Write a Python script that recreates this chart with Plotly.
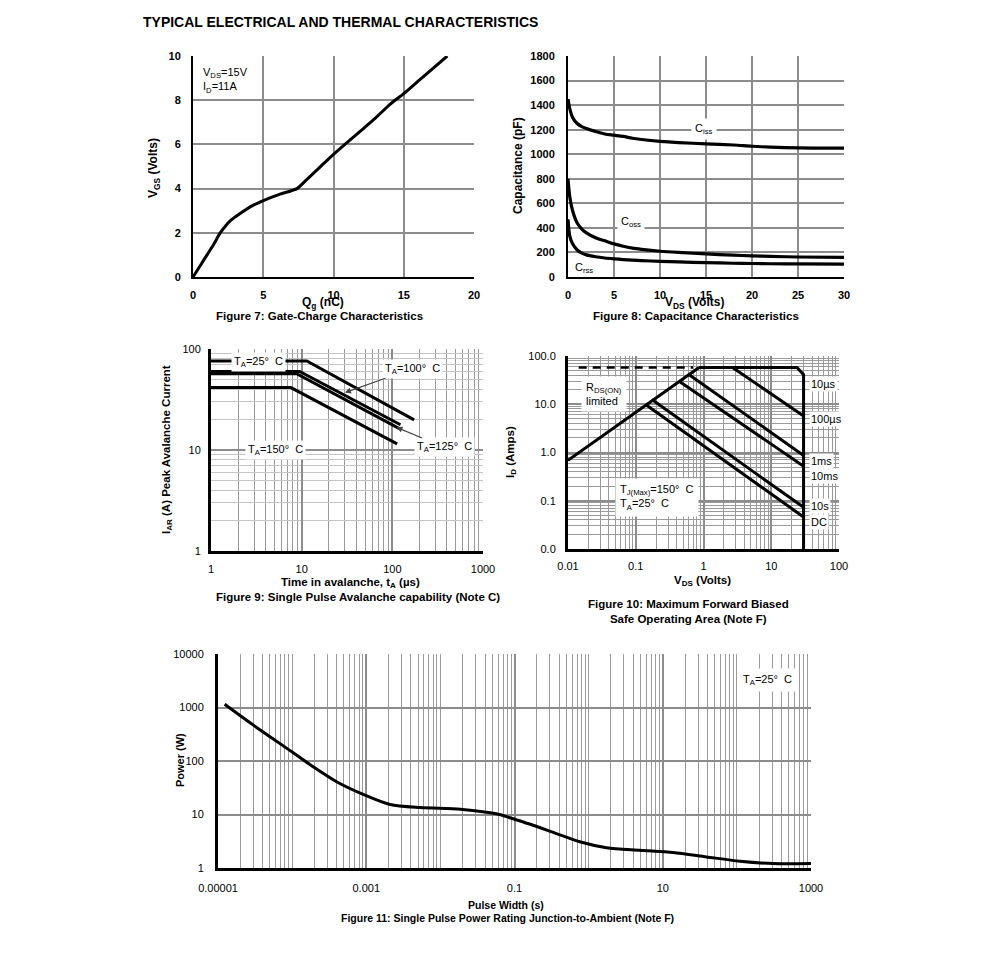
import math
import plotly.graph_objects as go

# ---------------- data ----------------
# Figure 7: gate charge
qg_nc = [0, 0.5, 1.0, 1.5, 1.9, 2.3, 2.7, 3.3, 4.3, 5.05, 6.2, 7.4, 8.0, 9.0, 10.0, 11.0, 12.0, 13.0, 14.0, 15.0, 16.0, 17.0, 18.1]
vgs_v = [0, 0.5, 1.0, 1.5, 1.96, 2.3, 2.57, 2.85, 3.25, 3.47, 3.75, 4.0, 4.35, 4.95, 5.55, 6.1, 6.65, 7.2, 7.8, 8.3, 8.85, 9.4, 10.0]

# Figure 8: capacitance
vds_cap = [0, 0.2, 0.5, 1, 1.5, 2, 3, 4, 5, 6, 7, 8, 10, 12, 15, 18, 20, 22, 25, 30]
ciss_pf = [1450, 1370, 1300, 1250, 1225, 1210, 1185, 1165, 1155, 1145, 1130, 1120, 1105, 1095, 1085, 1075, 1065, 1058, 1052, 1050]
coss_pf = [800, 650, 540, 440, 390, 360, 320, 295, 270, 250, 235, 225, 210, 200, 188, 178, 172, 168, 163, 160]
crss_pf = [470, 330, 270, 220, 195, 180, 165, 155, 148, 142, 137, 133, 128, 123, 117, 112, 110, 108, 107, 105]

# Figure 9: avalanche
ta25_t = [1, 11.4, 174]
ta25_i = [76, 76, 19.9]
ta100_t = [1, 9.5, 123]
ta100_i = [60, 60, 17.8]
ta125_t = [1, 8.8, 121]
ta125_i = [57, 57, 16.2]
ta150_t = [1, 7.6, 113]
ta150_i = [41.5, 41.5, 11.5]

# Figure 10: SOA
rds_v = [0.01, 0.86]
rds_i = [0.69, 58]
dash_v = [0.0144, 0.70]
dash_i = [58, 58]
us10_v = [0.86, 24, 30, 30]
us10_i = [58, 58, 41, 0.01]
us100_v = [2.68, 30]
us100_i = [58, 5.7]
ms1_v = [0.60, 30]
ms1_i = [42, 0.87]
ms10_v = [0.453, 30]
ms10_i = [29, 0.52]
s10_v = [0.173, 30]
s10_i = [12.5, 0.073]
dc_v = [0.138, 30]
dc_i = [10, 0.046]

# Figure 11: single pulse power
pw_t = [1.23e-5, 2.97e-5, 9.8e-5, 1.92e-4, 3.98e-4, 9.6e-4, 2.09e-3, 5.3e-3, 0.0186, 0.047, 0.065, 0.0865,
        0.178, 0.369, 0.759, 1.74, 4.9, 13.8, 38.9, 110, 309, 1000]
pw_p = [1150, 473, 150, 78, 41, 23, 15.4, 13.5, 12.6, 10.8, 9.9, 8.7,
        6.3, 4.4, 3.1, 2.4, 2.14, 1.94, 1.61, 1.34, 1.21, 1.21]

# ---------------- layout helpers ----------------
W, H = 991, 959
OFF = 8  # page body margin
FONT = "Liberation Sans"


def fx(px):
    return (px - OFF) / W


def fy(py):
    return 1 - (py - OFF) / H


GRID = "#8c8c8c"
LIGHT = "#c4c4c4"

fig = go.Figure()

line_k = dict(color="black", width=3)

# Fig 7
fig.add_trace(go.Scatter(x=qg_nc, y=vgs_v, mode="lines", line=dict(color="black", width=3, shape="spline", smoothing=0.6),
                         xaxis="x", yaxis="y", showlegend=False))
# Fig 8
for ys in (ciss_pf, coss_pf, crss_pf):
    fig.add_trace(go.Scatter(x=vds_cap, y=ys, mode="lines", line=dict(color="black", width=3.2, shape="spline", smoothing=0.8),
                             xaxis="x2", yaxis="y2", showlegend=False))
# Fig 9
for xs, ys in ((ta25_t, ta25_i), (ta100_t, ta100_i), (ta125_t, ta125_i), (ta150_t, ta150_i)):
    fig.add_trace(go.Scatter(x=xs, y=ys, mode="lines", line=line_k, xaxis="x3", yaxis="y3", showlegend=False))
# Fig 10
fig.add_trace(go.Scatter(x=dash_v, y=dash_i, mode="lines", line=dict(color="black", width=2.5, dash="8px,6px"),
                         xaxis="x4", yaxis="y4", showlegend=False))
for xs, ys in ((rds_v, rds_i), (us10_v, us10_i), (us100_v, us100_i), (ms1_v, ms1_i), (ms10_v, ms10_i),
               (s10_v, s10_i), (dc_v, dc_i)):
    fig.add_trace(go.Scatter(x=xs, y=ys, mode="lines", line=line_k, xaxis="x4", yaxis="y4", showlegend=False,
                             cliponaxis=False))
# Fig 11
fig.add_trace(go.Scatter(x=pw_t, y=pw_p, mode="lines", line=dict(color="black", width=3, shape="spline", smoothing=0.8),
                         xaxis="x5", yaxis="y5", showlegend=False))


def minor_vals(lo, hi):
    vals = []
    for d in range(lo, hi):
        for m in range(1, 10):
            vals.append(m * 10 ** d)
    vals.append(10 ** hi)
    return vals


bold_tick = dict(family=FONT, size=11, color="black", weight="bold")
norm_tick = dict(family=FONT, size=11, color="black")

common = dict(showline=True, linecolor="black", zeroline=False, ticks="", showgrid=True, fixedrange=True,
              automargin=False)

fig.update_layout(
    template="none",
    width=W, height=H, margin=dict(l=0, r=0, t=0, b=0, pad=0), autosize=False,
    paper_bgcolor="white", plot_bgcolor="white",
    font=dict(family=FONT, size=11, color="black"),
    # Fig 7
    xaxis=dict(domain=[fx(193), fx(474)], anchor="y", range=[0, 20], dtick=5, gridcolor=GRID, gridwidth=2,
               linewidth=2, tickfont=bold_tick, ticklabelstandoff=7, **common),
    yaxis=dict(domain=[fy(277), fy(56)], anchor="x", range=[0, 10], dtick=2, gridcolor=GRID, gridwidth=2,
               linewidth=2, tickfont=bold_tick, ticklabelstandoff=8, **common),
    # Fig 8
    xaxis2=dict(domain=[fx(568), fx(844)], anchor="y2", range=[0, 30], dtick=5, gridcolor=GRID, gridwidth=2,
                linewidth=2, tickfont=bold_tick, ticklabelstandoff=7, **common),
    yaxis2=dict(domain=[fy(277), fy(56)], anchor="x2", range=[0, 1800], dtick=200, gridcolor=GRID, gridwidth=2,
                linewidth=2, tickfont=bold_tick, ticklabelstandoff=9, **common),
    # Fig 9
    xaxis3=dict(domain=[fx(211), fx(483)], anchor="y3", type="log", range=[0, 3], tickvals=[1, 10, 100, 1000],
                ticktext=["1", "10", "100", "1000"], gridcolor=GRID, gridwidth=1.5, linewidth=3,
                minor=dict(tickvals=minor_vals(0, 3), showgrid=True, gridcolor="#9a9a9a", gridwidth=1.2),
                tickfont=norm_tick, ticklabelstandoff=6, **common),
    yaxis3=dict(domain=[fy(551), fy(349)], anchor="x3", type="log", range=[0, 2], tickvals=[1, 10, 100],
                ticktext=["1", "10", "100"], gridcolor=GRID, gridwidth=1.5, linewidth=3,
                minor=dict(tickvals=minor_vals(0, 2), showgrid=True, gridcolor=LIGHT, gridwidth=1),
                tickfont=norm_tick, ticklabelstandoff=5, **common),
    # Fig 10
    xaxis4=dict(domain=[fx(568), fx(839)], anchor="y4", type="log", range=[-2, 2],
                tickvals=[0.01, 0.1, 1, 10, 100], ticktext=["0.01", "0.1", "1", "10", "100"],
                gridcolor=GRID, gridwidth=1.5, linewidth=3,
                minor=dict(tickvals=minor_vals(-2, 2), showgrid=True, gridcolor="#9a9a9a", gridwidth=1.2),
                tickfont=norm_tick, ticklabelstandoff=5, **common),
    yaxis4=dict(domain=[fy(549), fy(356)], anchor="x4", type="log", range=[-2, 2],
                tickvals=[0.01, 0.1, 1, 10, 100], ticktext=["0.0", "0.1", "1.0", "10.0", "100.0"],
                gridcolor=GRID, gridwidth=1.5, linewidth=3,
                minor=dict(tickvals=minor_vals(-2, 2), showgrid=True, gridcolor="#9a9a9a", gridwidth=1.2),
                tickfont=norm_tick, ticklabelstandoff=7, **common),
    # Fig 11
    xaxis5=dict(domain=[fx(218), fx(811)], anchor="y5", type="log", range=[-5, 3],
                tickvals=[1e-5, 1e-3, 0.1, 10, 1000], ticktext=["0.00001", "0.001", "0.1", "10", "1000"],
                gridcolor=GRID, gridwidth=1.5, linewidth=3,
                minor=dict(tickvals=minor_vals(-5, 3), showgrid=True, gridcolor="#9a9a9a", gridwidth=1.2),
                tickfont=norm_tick, ticklabelstandoff=8, **common),
    yaxis5=dict(domain=[fy(868), fy(654)], anchor="x5", type="log", range=[0, 4],
                tickvals=[1, 10, 100, 1000, 10000], ticktext=["1", "10", "100", "1000", "10000"],
                gridcolor=GRID, gridwidth=1.5, linewidth=3,
                tickfont=norm_tick, ticklabelstandoff=9, **common),
)

ann = []


def paper_text(text, x, y, size=11, bold=True, xanchor="center", yanchor="middle", align="center", textangle=0):
    ann.append(dict(text=text, x=fx(x), y=fy(y), xref="paper", yref="paper", showarrow=False,
                    xanchor=xanchor, yanchor=yanchor, align=align, textangle=textangle,
                    font=dict(family=FONT, size=size, color="black", weight="bold" if bold else "normal")))


# main heading
paper_text("TYPICAL ELECTRICAL AND THERMAL CHARACTERISTICS", 141, 22, size=14, xanchor="left")
# fig 7
paper_text("Q<sub>g</sub> (nC)", 323, 303, size=12)
paper_text("Figure 7: Gate-Charge Characteristics", 319, 316, size=11.5)
paper_text("V<sub>GS</sub> (Volts)", 154, 168, size=12, textangle=-90)
# fig 8
paper_text("V<sub>DS</sub> (Volts)", 694, 303, size=12)
paper_text("Figure 8: Capacitance Characteristics", 696, 316, size=11.5)
paper_text("Capacitance (pF)", 518, 166, size=12, textangle=-90)
# fig 9
paper_text("Time in avalanche, t<sub>A</sub> (µs)", 350, 583, size=11.5)
paper_text("Figure 9: Single Pulse Avalanche capability (Note C)", 358, 597, size=11.5)
paper_text("I<sub>AR</sub> (A) Peak Avalanche Current", 167, 450, size=11.5, textangle=-90)
# fig 10
paper_text("V<sub>DS</sub> (Volts)", 702, 581, size=11.5)
paper_text("Figure 10: Maximum Forward Biased<br>Safe Operating Area (Note F)", 688, 611, size=11.5)
paper_text("I<sub>D</sub> (Amps)", 511, 452, size=11.5, textangle=-90)
# fig 11
paper_text("Pulse Width (s)", 506, 905, size=10.5)
paper_text("Figure 11: Single Pulse Power Rating Junction-to-Ambient (Note F)", 507, 918, size=10.5)
paper_text("Power (W)", 180, 760, size=11, textangle=-90)

nf = dict(family=FONT, size=11, color="black")

# in-plot labels
ann.append(dict(text="V<sub>DS</sub>=15V<br>I<sub>D</sub>=11A", x=0.55, y=9.65, xref="x", yref="y", showarrow=False,
                xanchor="left", yanchor="top", align="left", font=nf, bgcolor="white"))
ann.append(dict(text="C<sub>iss</sub>", x=14.8, y=1205, xref="x2", yref="y2", showarrow=False, font=nf,
                bgcolor="white", borderpad=3))
ann.append(dict(text="C<sub>oss</sub>", x=6.85, y=452, xref="x2", yref="y2", showarrow=False, font=nf,
                bgcolor="white", borderpad=3))
ann.append(dict(text="C<sub>rss</sub>", x=1.7, y=70, xref="x2", yref="y2", showarrow=False, font=nf))

L = math.log10
ann.append(dict(text="T<sub>A</sub>=25°  C", x=L(3.3), y=L(75), xref="x3", yref="y3", showarrow=False, font=nf,
                bgcolor="white", borderpad=2))
ann.append(dict(text="T<sub>A</sub>=150°  C", x=L(5.2), y=L(10), xref="x3", yref="y3", showarrow=False, font=nf,
                bgcolor="white", borderpad=2))
ann.append(dict(text="T<sub>A</sub>=100°  C", x=L(30), y=L(37), ax=L(166), ay=L(63.7), axref="x3", ayref="y3",
                xref="x3", yref="y3", showarrow=True, arrowhead=2, arrowsize=1, arrowwidth=1.2, font=nf,
                bgcolor="white", borderpad=2))
ann.append(dict(text="T<sub>A</sub>=125°  C", x=L(111), y=L(16.8), ax=L(378), ay=L(10.6), axref="x3", ayref="y3",
                xref="x3", yref="y3", showarrow=True, arrowhead=2, arrowsize=1, arrowwidth=1.2, font=nf,
                bgcolor="white", borderpad=2))

ann.append(dict(text="R<sub>DS(ON)</sub><br>limited", x=L(0.0155), y=L(16), xref="x4", yref="y4", showarrow=False,
                xanchor="left", align="left", font=nf, bgcolor="white", borderpad=4))
ann.append(dict(text="T<sub>J(Max)</sub>=150°  C<br>T<sub>A</sub>=25°  C", x=L(0.05), y=L(0.115), xref="x4", yref="y4",
                showarrow=False, xanchor="left", align="left", font=nf, bgcolor="white", borderpad=4))
for txt, yv in (("10µs", 26), ("100µs", 5.06), ("1ms", 0.67), ("10ms", 0.33), ("10s", 0.078), ("DC", 0.036)):
    ann.append(dict(text=txt, x=L(36), y=L(yv), xref="x4", yref="y4", showarrow=False, xanchor="left",
                    font=nf, bgcolor="white", borderpad=1))

ann.append(dict(text="T<sub>A</sub>=25°  C", x=L(257), y=L(3300), xref="x5", yref="y5", showarrow=False, font=nf,
                bgcolor="white", borderpad=4))

fig.update_layout(annotations=ann)
fig.write_html("out.html")
